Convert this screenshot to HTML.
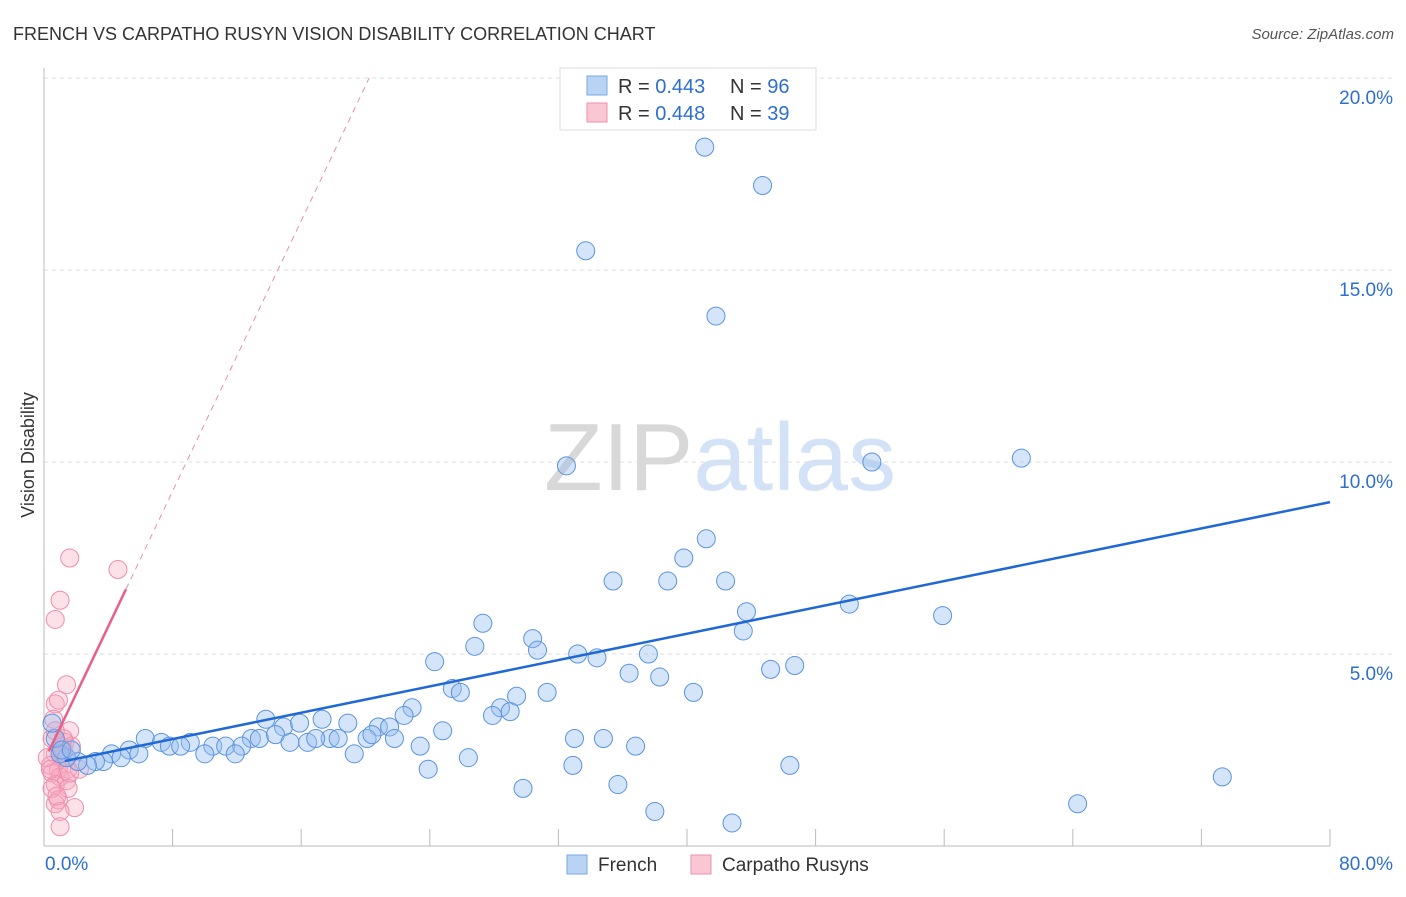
<!DOCTYPE html>
<html><head><meta charset="utf-8"><style>
body{margin:0;background:#fff;font-family:"Liberation Sans",sans-serif;}
svg text{font-family:"Liberation Sans",sans-serif;}
</style></head><body>
<svg id="chart" width="1406" height="892" xmlns="http://www.w3.org/2000/svg">
<text x="13" y="40" font-size="18" fill="#333">FRENCH VS CARPATHO RUSYN VISION DISABILITY CORRELATION CHART</text>
<text x="1394" y="39" font-size="15" fill="#555" text-anchor="end" font-style="italic">Source: ZipAtlas.com</text>
<text transform="translate(34,455) rotate(-90)" font-size="18" fill="#333" text-anchor="middle">Vision Disability</text>
<text x="720" y="490" font-size="96" text-anchor="middle" fill="#d8d8d8" font-family="Liberation Serif">ZIP<tspan fill="#d3e2f6" font-family="Liberation Sans">atlas</tspan></text>
<g id="grid"></g><g id="marks"></g>
<g>
<rect x="560" y="68" width="256" height="62" fill="#fff" stroke="#ddd"/>
<rect x="587" y="76" width="20" height="19" fill="#b8d3f4" stroke="#7aa7e6"/>
<rect x="587" y="103" width="20" height="19" fill="#f9c6d4" stroke="#ee8fab"/>
<text x="618" y="93" font-size="20" fill="#333">R = <tspan fill="#2d6fd1">0.443</tspan></text>
<text x="730" y="93" font-size="20" fill="#333">N = <tspan fill="#2d6fd1">96</tspan></text>
<text x="618" y="120" font-size="20" fill="#333">R = <tspan fill="#2d6fd1">0.448</tspan></text>
<text x="730" y="120" font-size="20" fill="#333">N = <tspan fill="#2d6fd1">39</tspan></text>
</g>
<g>
<rect x="567" y="855" width="20" height="19" fill="#b8d3f4" stroke="#7aa7e6"/>
<text x="598" y="871" font-size="19" fill="#333">French</text>
<rect x="691" y="855" width="20" height="19" fill="#f9c6d4" stroke="#ee8fab"/>
<text x="722" y="871" font-size="19" fill="#333">Carpatho Rusyns</text>
</g>
</svg>
<script>
const yTicks=[5,10,15,20];
const xTickLabels=["0.0%","80.0%"];
const frenchX=[41.1,44.7,33.7,41.8,32.5,51.5,60.8,41.2,39.8,35.4,38.8,42.4,43.7,50.1,55.9,27.3,43.5,30.4,26.8,30.7,33.2,34.4,37.6,24.3,36.4,38.3,45.2,46.7,25.4,25.9,40.4,29.4,31.3,22.9,22.4,28.4,27.9,29.0,24.8,13.8,17.3,18.9,14.9,15.9,20.8,21.5,12.9,13.4,14.4,17.8,18.3,20.1,20.4,6.3,7.3,9.1,10.5,11.3,12.3,15.3,16.4,16.9,21.8,23.4,19.3,11.9,10.0,5.3,7.8,8.5,4.2,4.8,3.7,3.2,2.7,2.1,1.4,1.0,0.7,0.5,1.1,1.7,33.0,34.8,36.8,26.4,32.9,23.9,46.4,73.3,29.8,35.7,38.0,42.8,64.3,5.9];
const frenchY=[18.2,17.2,15.5,13.8,9.9,10.0,10.1,8.0,7.5,6.9,6.9,6.9,6.1,6.3,6.0,5.8,5.6,5.4,5.2,5.1,5.0,4.9,5.0,4.8,4.5,4.4,4.6,4.7,4.1,4.0,4.0,3.9,4.0,3.6,3.4,3.6,3.4,3.5,3.0,3.3,3.3,3.2,3.1,3.2,3.1,3.1,2.8,2.8,2.9,2.8,2.8,2.8,2.9,2.8,2.7,2.7,2.6,2.6,2.6,2.7,2.7,2.8,2.8,2.6,2.4,2.4,2.4,2.5,2.6,2.6,2.4,2.3,2.2,2.2,2.1,2.2,2.3,2.4,2.8,3.2,2.5,2.5,2.8,2.8,2.6,2.3,2.1,2.0,2.1,1.8,1.5,1.6,0.9,0.6,1.1,2.4];
const rusynX=[1.6,4.6,1.0,0.7,1.4,0.7,0.9,0.6,1.6,0.5,1.3,1.0,1.7,0.7,1.1,0.4,0.9,1.5,2.2,0.5,1.0,1.4,0.7,1.5,0.5,0.9,0.7,1.9,1.0,1.0,1.2,0.7,0.2,1.2,0.4,1.6,0.8,1.1,1.4];
const rusynY=[7.5,7.2,6.4,5.9,4.2,3.7,3.8,3.3,3.0,2.8,2.7,2.6,2.6,2.4,2.3,2.1,2.0,2.0,2.0,1.9,1.8,1.7,1.6,1.5,1.5,1.2,1.1,1.0,0.9,0.5,2.8,3.0,2.3,2.5,2.0,1.9,1.3,2.5,2.3];
const frenchFit=[2.1,0.0857];
const rusynFit=[2.2,0.88];
const X=v=>44+v*(1330-44)/80, Y=v=>846-v*38.4;
const NS="http://www.w3.org/2000/svg";
function mk(t,a,p){const e=document.createElementNS(NS,t);for(const k in a)e.setAttribute(k,a[k]);p.appendChild(e);return e;}
const g=document.getElementById('grid'),m=document.getElementById('marks');
yTicks.forEach(v=>{
 const l=mk('line',{x1:44,x2:1394,y1:Y(v),y2:Y(v),stroke:'#ddd','stroke-dasharray':'4,4'},g);
 
 
 const t=mk('text',{x:1393,y:Y(v)+26,'font-size':19,fill:'#2d6fd1','text-anchor':'end'},g);t.textContent=v.toFixed(1)+'%';
 
 
});
mk('line',{x1:44,x2:44,y1:68,y2:846,stroke:'#bbb'},g);
mk('line',{x1:44,x2:1330,y1:846,y2:846,stroke:'#bbb'},g);
for(let i=1;i<=10;i++){const l=mk('line',{x1:X(i*8),x2:X(i*8),y1:829,y2:846,stroke:'#bbb'},g);
 
 }
const t0=mk('text',{x:45,y:870,'font-size':19,fill:'#2d6fd1'},g);t0.textContent=xTickLabels[0];


const t1=mk('text',{x:1393,y:870,'font-size':19,fill:'#2d6fd1','text-anchor':'end'},g);t1.textContent=xTickLabels[1];


rusynX.forEach((x,i)=>{const c=mk('circle',{cx:X(x),cy:Y(rusynY[i]),r:9,fill:'rgba(246,170,192,0.35)',stroke:'#f08dab','stroke-width':1},m);
 
 });
frenchX.forEach((x,i)=>{const c=mk('circle',{cx:X(x),cy:Y(frenchY[i]),r:9,fill:'rgba(150,190,240,0.4)',stroke:'#5b93e0','stroke-width':1},m);
 
 });
const fl=mk('line',{x1:X(1.3),y1:Y(frenchFit[0]+frenchFit[1]*1.3),x2:X(80),y2:Y(frenchFit[0]+frenchFit[1]*80),stroke:'#2068d6','stroke-width':2.5},m);


const rl=mk('line',{x1:X(0.3),y1:Y(rusynFit[0]+rusynFit[1]*0.3),x2:X(5.1),y2:Y(rusynFit[0]+rusynFit[1]*5.1),stroke:'#ea5f88','stroke-width':2.5},m);


const xe=(20-rusynFit[0])/rusynFit[1];
const rd=mk('line',{x1:X(5.1),y1:Y(rusynFit[0]+rusynFit[1]*5.1),x2:X(xe),y2:Y(20),stroke:'#ea8fab','stroke-width':1,'stroke-dasharray':'6,5'},m);


</script>
</body></html>
